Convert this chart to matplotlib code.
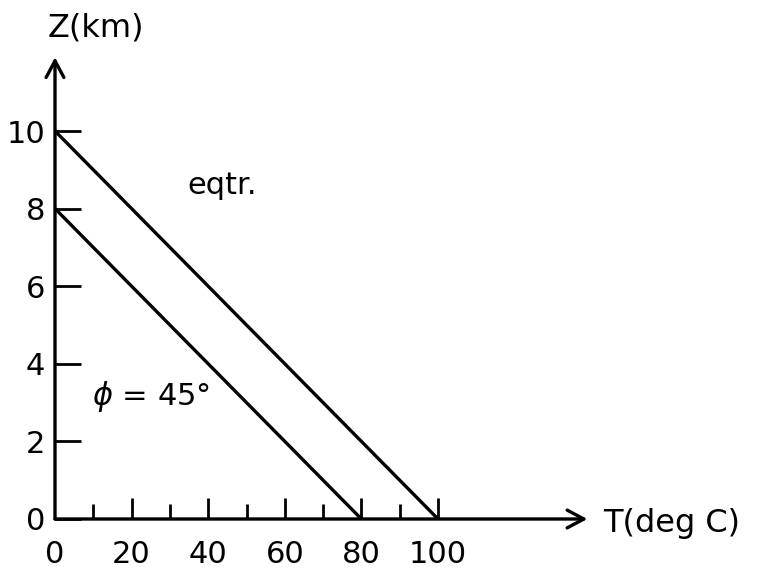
import matplotlib
matplotlib.use("Agg")
import matplotlib.pyplot as plt
from matplotlib.ticker import FixedLocator

# Surface temperature (deg C) and tropopause height (km) for each latitude profile
eq_T = [0, 100]
eq_Z = [10, 0]
mid_T = [0, 80]
mid_Z = [8, 0]

x_major = [0, 20, 40, 60, 80, 100]
x_minor = [10, 30, 50, 70, 90]
y_major = [0, 2, 4, 6, 8, 10]

plt.rcParams["font.family"] = ["DejaVu Sans"]

W, H = 764, 572
fig = plt.figure(figsize=(W / 100, H / 100), dpi=100)
x0, y0 = 55, 53            # origin in pixels from left/bottom
px_x, px_y = 3.83, 38.8    # pixels per data unit
xmax, ymax = 139, 11.9
ax = fig.add_axes([x0 / W, y0 / H, (xmax * px_x) / W, (ymax * px_y) / H])
ax.set_xlim(0, xmax)
ax.set_ylim(0, ymax)

lw = 2.4
ax.plot(eq_T, eq_Z, color="black", lw=lw, solid_capstyle="round")
ax.plot(mid_T, mid_Z, color="black", lw=lw, solid_capstyle="round")

# axes drawn as arrows from the origin
for s in ("top", "right", "left", "bottom"):
    ax.spines[s].set_visible(False)
arrow = dict(arrowstyle="->,head_length=0.6,head_width=0.32", color="black",
             lw=lw, mutation_scale=20, shrinkA=0, shrinkB=0)
ax.annotate("", xy=(xmax, 0), xytext=(0, 0), arrowprops=arrow,
            annotation_clip=False)
ax.annotate("", xy=(0, ymax), xytext=(0, 0), arrowprops=arrow,
            annotation_clip=False)

ax.xaxis.set_major_locator(FixedLocator(x_major))
ax.xaxis.set_minor_locator(FixedLocator(x_minor))
ax.yaxis.set_major_locator(FixedLocator(y_major))
ax.set_xticklabels([str(v) for v in x_major])
ax.set_yticklabels([str(v) for v in y_major])
ax.tick_params(axis="x", which="major", direction="in", length=15, width=2.0,
               labelsize=22, pad=15)
ax.tick_params(axis="x", which="minor", direction="in", length=11, width=2.0)
ax.tick_params(axis="y", which="major", direction="in", length=19, width=2.0,
               labelsize=22, pad=7)
# no inward tick at the origin on the x axis
ax.xaxis.get_major_ticks()[0].tick1line.set_visible(False)

ax.text(-1.8, 12.65, "Z(km)", fontsize=23, ha="left", va="center",
        clip_on=False)
ax.text(xmax + 4, -0.12, "T(deg C)", fontsize=23, ha="left", va="center",
        clip_on=False)
ax.text(43.6, 8.6, "eqtr.", fontsize=22, ha="center", va="center")
ax.text(9.7, 3.15, r"$\phi$ = 45°", fontsize=22, ha="left", va="center")

fig.savefig("out.png", dpi=100)
